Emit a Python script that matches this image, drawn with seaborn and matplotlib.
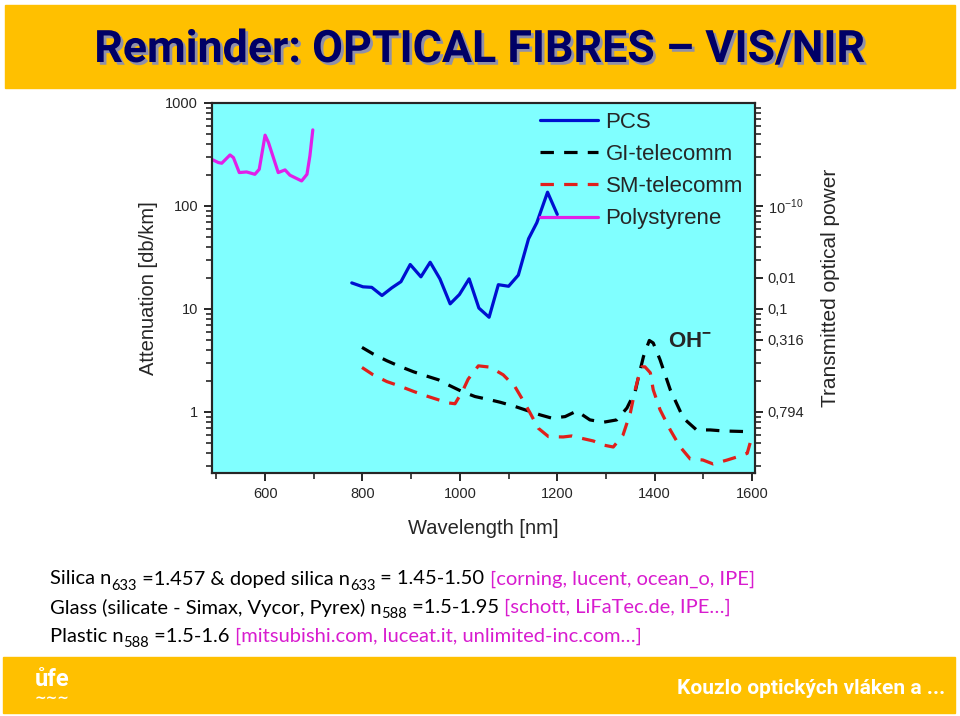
import numpy as np
import pandas as pd
import matplotlib
matplotlib.use("Agg")
import matplotlib.pyplot as plt
import matplotlib.patheffects as pe
from matplotlib.patches import Rectangle
from matplotlib.ticker import LogLocator, NullFormatter, FixedLocator
import seaborn as sns

# ─────────────────────────────────────────────
# data (wavelength in nm, attenuation in dB/km)
# ─────────────────────────────────────────────
pcs_nm = [778, 801, 819, 840, 860, 879, 898, 920, 939, 959, 980, 999, 1019,
          1039, 1060, 1079, 1100, 1120, 1141, 1158, 1180, 1200]
pcs_db = [17.9, 16.4, 16.2, 13.5, 16.0, 18.4, 27.0, 20.5, 28.4, 19.6, 11.2,
          13.8, 19.6, 10.2, 8.3, 17.2, 16.6, 21.3, 48.0, 68.8, 136, 82.8]

gi_nm = [799, 822, 850, 874, 905, 925, 956, 976, 1004, 1031, 1062, 1083, 1113,
         1141, 1165, 1189, 1216, 1240, 1267, 1295, 1322, 1343, 1360, 1367,
         1377, 1389, 1397, 1411, 1432, 1459, 1486, 1514, 1541, 1592]
gi_db = [4.23, 3.65, 3.14, 2.80, 2.45, 2.28, 2.05, 1.83, 1.58, 1.41, 1.31,
         1.24, 1.13, 1.02, 0.935, 0.869, 0.90, 1.02, 0.836, 0.794, 0.836,
         1.09, 1.58, 2.21, 3.45, 4.94, 4.67, 3.21, 1.64, 0.869, 0.668, 0.668,
         0.653, 0.643]

sm_nm = [799, 822, 850, 874, 905, 929, 956, 978, 990, 1006, 1017, 1038, 1062,
         1089, 1113, 1127, 1144, 1161, 1182, 1212, 1230, 1247, 1274, 1294,
         1315, 1335, 1350, 1360, 1367, 1374, 1380, 1391, 1397, 1411, 1432,
         1452, 1473, 1499, 1520, 1549, 1569, 1590, 1596]
sm_db = [2.70, 2.29, 1.97, 1.80, 1.58, 1.44, 1.31, 1.22, 1.20, 1.61, 2.08,
         2.80, 2.72, 2.29, 1.76, 1.36, 0.98, 0.694, 0.575, 0.571, 0.584,
         0.558, 0.522, 0.477, 0.456, 0.597, 0.978, 1.64, 2.21, 2.74, 2.74,
         2.40, 1.64, 1.05, 0.668, 0.459, 0.349, 0.341, 0.312, 0.341, 0.365,
         0.396, 0.499]

ps_nm = [493, 504, 511, 528, 535, 547, 562, 579, 588, 600, 607, 627, 641,
         651, 675, 686, 692, 698]
ps_db = [280, 264, 260, 313, 295, 211, 214, 203, 227, 487, 413, 211, 224,
         199, 175, 203, 306, 548]

fibres = ["PCS", "GI-telecomm", "SM-telecomm", "Polystyrene"]
colours = {"PCS": "#0010D0", "GI-telecomm": "#000000",
           "SM-telecomm": "#E0201C", "Polystyrene": "#E020E8"}

# right axis: attenuation over 1 km expressed as transmitted power
power_db = [1, 5, 10, 20, 100]
power_labels = ["0,794", "0,316", "0,1", "0,01", r"10$^{-10}$"]

text_lines = [
    [("Silica n", "k", False), ("633", "k", True), (" =1.457 & doped silica n", "k", False),
     ("633", "k", True), (" = 1.45-1.50 ", "k", False),
     ("[corning, lucent, ocean_o, IPE]", "#D81CCF", False)],
    [("Glass (silicate - Simax, Vycor, Pyrex) n", "k", False), ("588", "k", True),
     (" =1.5-1.95 ", "k", False), ("[schott, LiFaTec.de, IPE\u2026]", "#D81CCF", False)],
    [("Plastic n", "k", False), ("588", "k", True), (" =1.5-1.6 ", "k", False),
     ("[mitsubishi.com, luceat.it, unlimited-inc.com\u2026]", "#D81CCF", False)],
]

df = pd.concat([
    pd.DataFrame({"wavelength": x, "attenuation": y, "fibre": name})
    for name, x, y in zip(fibres, [pcs_nm, gi_nm, sm_nm, ps_nm],
                          [pcs_db, gi_db, sm_db, ps_db])
], ignore_index=True)

# ─────────────────────────────────────────────
# figure
# ─────────────────────────────────────────────
sns.set_style("ticks")
plt.rcParams["font.family"] = ["Liberation Sans", "DejaVu Sans"]
plt.rcParams["mathtext.fontset"] = "custom"
plt.rcParams["mathtext.rm"] = "Liberation Sans"
plt.rcParams["mathtext.bf"] = "Liberation Sans:bold"

W, H = 960, 716
fig = plt.figure(figsize=(W / 100, H / 100), dpi=100)
renderer = fig.canvas.get_renderer()

# banners
fig.patches.append(Rectangle((5 / W, 1 - 88 / H), 950 / W, 83 / H,
                             transform=fig.transFigure, color="#FFC000", zorder=0))
fig.patches.append(Rectangle((3 / W, 1 - 713 / H), 952 / W, 56 / H,
                             transform=fig.transFigure, color="#FFC000", zorder=0))

# title, sized so it spans the same width as on the slide, with a soft shadow
title = "Reminder: OPTICAL FIBRES \u2013 VIS/NIR"
tfam = ["Roboto", "DejaVu Sans"]
t = fig.text(480 / W, 1 - 50 / H, title, ha="center", va="center",
             fontsize=30, fontweight="bold", color="#000066", family=tfam, zorder=3)
t.set_fontsize(30 * 770 / t.get_window_extent(renderer).width)
t.set_path_effects([pe.withSimplePatchShadow(offset=(2, -2),
                                             shadow_rgbFace="#9090A8", alpha=1)])

ax = fig.add_axes([212 / W, 1 - 473 / H, 543 / W, 370 / H])
ax.set_facecolor("#80FFFF")

sns.lineplot(data=df, x="wavelength", y="attenuation", hue="fibre", style="fibre",
             hue_order=fibres, style_order=fibres, palette=colours,
             dashes={"PCS": "", "GI-telecomm": (4.2, 3.2),
                     "SM-telecomm": (4.2, 3.2), "Polystyrene": ""},
             estimator=None, linewidth=2.3, legend=False, ax=ax)

ax.set_yscale("log")
ax.set_xlim(491, 1606)
ax.set_ylim(0.255, 1000)
ax.set_xticks([600, 800, 1000, 1200, 1400, 1600])
ax.xaxis.set_minor_locator(FixedLocator([500, 700, 900, 1100, 1300, 1500]))
ax.set_yticks([1, 10, 100, 1000])
ax.set_yticklabels(["1", "10", "100", "1000"])
ax.yaxis.set_minor_locator(LogLocator(base=10, subs=np.arange(2, 10)))
ax.yaxis.set_minor_formatter(NullFormatter())
ax.tick_params(axis="both", which="major", direction="out", length=6, width=1.4,
               labelsize=10.5, pad=4)
ax.tick_params(axis="both", which="minor", direction="out", length=4, width=1.2)
ax.set_xlabel("Wavelength [nm]", fontsize=14.5, labelpad=13)
ax.set_ylabel("Attenuation [db/km]", fontsize=14.5, labelpad=5)
for s in ax.spines.values():
    s.set_linewidth(1.5)

leg = ax.legend(handles=ax.lines[:4], labels=fibres, loc="upper left",
                bbox_to_anchor=((540 - 212) / 543, 1 - (112 - 103) / 370),
                frameon=False, fontsize=16, handlelength=2.6, handletextpad=0.35,
                labelspacing=0.5, borderpad=0, borderaxespad=0)

ax.text(1427, 4.8, r"OH$^{\mathbf{-}}$", fontsize=16, fontweight="bold", va="center")

ax2 = ax.twinx()
ax2.set_yscale("log")
ax2.set_ylim(ax.get_ylim())
ax2.set_yticks(power_db)
ax2.set_yticklabels(power_labels)
ax2.yaxis.set_minor_locator(LogLocator(base=10, subs=np.arange(2, 10)))
ax2.yaxis.set_minor_formatter(NullFormatter())
ax2.tick_params(axis="y", which="major", direction="out", length=6, width=1.4,
                labelsize=10.5, pad=3)
ax2.tick_params(axis="y", which="minor", direction="out", length=4, width=1.2)
ax2.set_ylabel("Transmitted optical power", fontsize=15, labelpad=12)
for s in ax2.spines.values():
    s.set_linewidth(1.5)

# ─────────────────────────────────────────────
# text block below the chart
# ─────────────────────────────────────────────
body_fam = ["Lato", "DejaVu Sans"]
for i, parts in enumerate(text_lines):
    x = 50 / W
    y = 1 - (579 + i * 28.5) / H
    for txt, col, sub in parts:
        tt = fig.text(x, y - (7 / H if sub else 0), txt, color=col,
                      fontsize=10.5 if sub else 14.5, va="center", family=body_fam)
        x += tt.get_window_extent(renderer).width / W

# footer
fig.text(945 / W, 1 - 689 / H, "Kouzlo optických vláken a ...", ha="right",
         va="center", fontsize=15, fontweight="bold", color="white", family=tfam)
fig.text(52 / W, 1 - 679 / H, "ůfe", ha="center", va="center", fontsize=17,
         fontweight="bold", color="white", family=tfam)
fig.text(52 / W, 1 - 698 / H, "\u223c\u223c\u223c", ha="center", va="center",
         fontsize=10, fontweight="bold", color="white")

fig.savefig("out.png", dpi=100)
